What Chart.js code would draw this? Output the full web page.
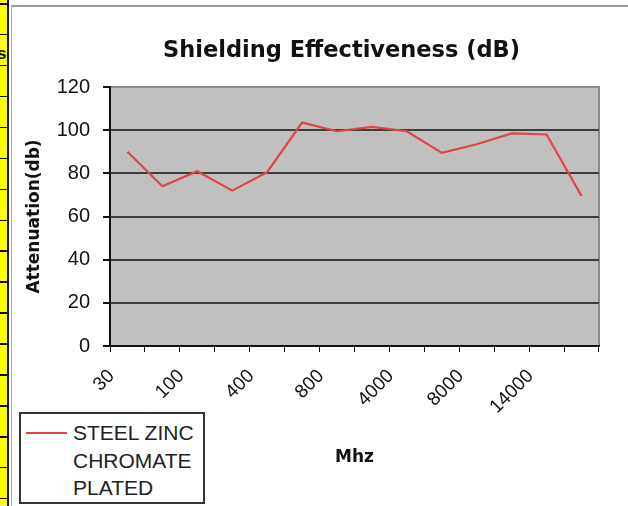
<!DOCTYPE html>
<html>
<head>
<meta charset="utf-8">
<title>Shielding Effectiveness</title>
<script src="https://cdn.jsdelivr.net/npm/chart.js@4.4.1/dist/chart.umd.min.js"></script>
<style>
    html, body { margin: 0; padding: 0; background: #fff; overflow: hidden; }
    #page { position: relative; width: 628px; height: 506px; overflow: hidden; }
    #strip {
        position: absolute; left: 0; top: 0; width: 7px; height: 506px; overflow: hidden;
        background: repeating-linear-gradient(to bottom, #111 0, #111 1.5px, #ffff00 1.5px, #ffff00 30.93px);
        background-position: 0 3px;
        border-right: 2px solid #111;
    }
    #strip span { position: absolute; left: -3px; top: 44px; font: bold 17px "Liberation Sans", Arial, sans-serif; color: #111; }
    #frame {
        position: absolute; left: 11px; top: 5px; width: 700px; height: 600px;
        border-left: 1px solid #aaa; border-top: 2px solid #9a9a9a;
    }
    #chart { position: absolute; left: 12px; top: 7px; }
    #legend {
        position: absolute; left: 19px; top: 412px; width: 186px; height: 92px;
        box-sizing: border-box; border: 2px solid #333; background: #fff;
    }
    #legend .item { position: relative; }
    #legend .swatch { position: absolute; left: 5px; top: 18px; width: 41px; height: 2px; }
    #legend .label {
        display: block; margin-left: 52px; width: 128px; padding-top: 5px;
        font: 21px "Liberation Sans", Arial, sans-serif; line-height: 27.5px; color: #222;
    }
</style>
</head>
<body>
<div id="page">
    <div id="strip"><span>s</span></div>
    <div id="frame"></div>
    <canvas id="chart" width="659" height="499"></canvas>
    <div id="legend"></div>
</div>
<script>
// frequency steps (only every other one is labelled on the axis)
var categories = ['30', '50', '100', '200', '400', '600', '800', '1000', '4000', '6000', '8000', '10000', '14000', '18000'];
var attenuation = [90, 74, 81, 72, 80.5, 103.5, 99.5, 101.5, 99.5, 89.5, 93.5, 98.5, 98, 69.5];
var seriesName = 'STEEL ZINC CHROMATE PLATED';
var yMin = 0;
var yMax = 120;
var yStep = 20;

var lineColor = '#e04444';
var textColor = '#111';

var plotFrame = {
    id: 'plotFrame',
    beforeDraw: function(chart) {
        var a = chart.chartArea;
        var ctx = chart.ctx;
        ctx.save();
        ctx.fillStyle = '#c0c0c0';
        ctx.fillRect(a.left, a.top, a.right - a.left, a.bottom - a.top);
        ctx.strokeStyle = '#8c8c8c';
        ctx.lineWidth = 2;
        ctx.strokeRect(a.left, a.top, a.right - a.left, a.bottom - a.top);
        ctx.restore();
    }
};

function buildLegend(chart) {
    var box = document.getElementById('legend');
    var ds = chart.data.datasets;
    var html = '';
    for (var i = 0; i < ds.length; i++) {
        html += '<div class="item"><span class="swatch" style="background:' + ds[i].borderColor + '"></span>';
        html += '<span class="label">' + ds[i].label + '</span></div>';
    }
    box.innerHTML = html;
}

var chart = new Chart(document.getElementById('chart'), {
    type: 'line',
    data: {
        labels: categories,
        datasets: [{
            label: seriesName,
            data: attenuation,
            borderColor: lineColor,
            borderWidth: 2.2,
            pointRadius: 0,
            tension: 0,
            fill: false
        }]
    },
    options: {
        responsive: false,
        animation: false,
        layout: { padding: 0 },
        plugins: {
            legend: { display: false },
            tooltip: { enabled: false },
            title: {
                display: true,
                text: 'Shielding Effectiveness (dB)',
                color: textColor,
                font: { family: 'DejaVu Sans', weight: 'bold', size: 22.5 },
                padding: { top: 31, bottom: 22 }
            }
        },
        scales: {
            x: {
                offset: true,
                grid: { offset: true, drawOnChartArea: false, drawTicks: true, tickLength: 6, tickColor: textColor },
                border: { color: textColor, width: 2 },
                ticks: {
                    autoSkip: false,
                    maxRotation: 45,
                    minRotation: 45,
                    labelOffset: -16,
                    padding: 13,
                    color: textColor,
                    font: { family: 'Liberation Sans', size: 19 },
                    callback: function(v, i) {
                        return i % 2 === 0 ? this.getLabelForValue(v) : '';
                    }
                },
                title: {
                    display: true,
                    text: 'Mhz',
                    color: textColor,
                    font: { family: 'DejaVu Sans', weight: 'bold', size: 17 },
                    padding: { top: 0, bottom: 38 }
                },
                afterFit: function(s) {
                    s.height = 160;
                    s.paddingLeft = 0;
                    s.paddingRight = 72;
                }
            },
            y: {
                min: yMin,
                max: yMax,
                ticks: {
                    stepSize: yStep,
                    padding: 13,
                    color: textColor,
                    font: { family: 'Liberation Sans', size: 20 }
                },
                grid: {
                    color: function(c) {
                        return c.tick && c.tick.value === yMax ? '#8c8c8c' : '#3d3d3d';
                    },
                    lineWidth: 2,
                    tickLength: 7,
                    tickColor: textColor
                },
                border: { color: textColor, width: 2 },
                title: {
                    display: true,
                    text: 'Attenuation(db)',
                    color: textColor,
                    font: { family: 'DejaVu Sans', weight: 'bold', size: 17 },
                    padding: { top: 12, bottom: 0 }
                },
                afterFit: function(s) {
                    s.width = 98;
                }
            }
        }
    },
    plugins: [plotFrame]
});

buildLegend(chart);
</script>
</body>
</html>
